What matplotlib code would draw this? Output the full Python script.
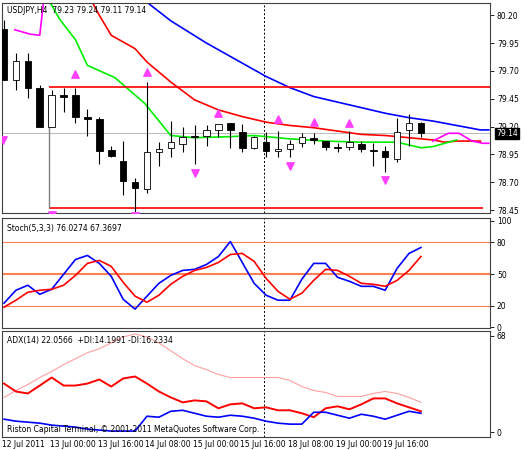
import numpy as np
import matplotlib
matplotlib.use("Agg")
import matplotlib.pyplot as plt

opens  = [80.08,79.62,79.79,79.55,79.20,79.48,79.48,79.29,79.27,78.99,78.89,78.70,78.64,78.97,79.01,79.04,79.12,79.12,79.17,79.23,79.15,79.01,79.06,78.98,79.00,79.05,79.10,79.07,79.02,79.02,79.04,78.99,78.98,78.91,79.17,79.23]
highs  = [80.16,79.86,79.86,79.57,79.53,79.55,79.55,79.36,79.29,79.03,79.07,78.74,79.60,79.06,79.25,79.20,79.21,79.21,79.22,79.23,79.22,79.12,79.15,79.16,79.08,79.14,79.14,79.07,79.05,79.16,79.07,79.05,79.03,79.28,79.31,79.24]
lows   = [79.62,79.53,79.46,79.20,79.20,79.33,79.23,79.12,78.86,78.93,78.59,78.43,78.60,78.85,78.93,78.97,78.86,79.03,79.11,79.01,78.97,79.00,78.93,78.93,78.93,79.02,79.04,78.99,78.97,78.99,78.97,78.85,78.79,78.88,79.03,79.11]
closes = [79.62,79.79,79.55,79.20,79.48,79.47,79.29,79.27,78.98,78.94,78.71,78.65,78.97,79.00,79.06,79.11,79.11,79.17,79.22,79.17,79.01,79.11,78.98,79.00,79.04,79.11,79.08,79.02,79.01,79.06,79.00,78.98,78.93,79.15,79.23,79.14]

blue_idx = [11,14,17,20,22,24,26,28,30,32,34,36,38,40,40.7]
blue_val = [80.40,80.15,79.95,79.77,79.65,79.55,79.47,79.42,79.37,79.32,79.28,79.25,79.21,79.17,79.17]
red_idx = [7,8,9,11,12,14,16,18,20,22,24,26,28,30,32,34,36,37,38,39,40]
red_val = [80.40,80.20,80.02,79.90,79.78,79.60,79.44,79.35,79.29,79.24,79.21,79.19,79.16,79.13,79.12,79.10,79.08,79.06,79.07,79.07,79.07]
green_idx = [3.4,4.7,6,7,9.3,11.8,14,16,19,21,24,27,30,33,35,36,37,38]
green_val = [80.40,80.16,79.98,79.75,79.64,79.41,79.12,79.10,79.11,79.12,79.09,79.07,79.06,79.06,79.01,79.02,79.05,79.08]
mag1_idx = [0.9,2.2,3.0,3.4]
mag1_val = [80.07,80.03,80.02,80.40]
mag2_idx = [36,37.3,38.2,39.3,40.2,40.7]
mag2_val = [79.07,79.14,79.14,79.07,79.05,79.05]
up_frac = [6,12,18,23,26,29]
up_frac_val = [79.67,79.69,79.32,79.27,79.24,79.23]
dn_frac = [-0.1,4,11,16,24,32]
dn_frac_val = [79.08,78.41,78.40,78.78,78.85,78.72]
res_level = 79.56
sup_level = 78.47

stoch_k = [22.5,34.7,39.4,30.9,35.6,49.7,63.7,67.5,60.0,47.8,26.2,16.9,29.1,41.2,48.7,53.4,54.4,59.0,66.5,80.6,60.9,41.2,30.0,25.3,25.3,45.0,60.0,60.0,46.9,43.1,38.4,38.4,34.7,55.3,69.4,75.0]
stoch_d = [18.7,25.3,32.8,34.7,35.6,39.4,48.7,60.0,62.8,57.2,42.2,29.1,23.4,30.0,40.3,47.8,53.4,56.2,60.9,68.4,69.4,61.9,45.9,33.7,26.2,31.9,44.0,54.4,53.4,47.8,41.2,40.3,38.4,44.0,53.4,66.5]
adx = [24.5,29.4,33.6,38.6,42.8,47.7,51.9,56.1,58.9,63.1,67.3,69.4,67.3,63.1,57.5,51.9,47.0,44.2,40.7,38.6,38.6,38.6,38.6,38.6,36.5,32.2,29.4,28.0,25.2,25.2,25.2,27.3,28.7,27.3,24.5,21.0]
minus_di = [34.3,28.7,27.3,32.9,38.6,32.9,32.9,34.3,37.2,32.2,37.9,39.3,34.3,28.7,24.5,21.0,22.4,21.7,16.8,19.6,20.3,16.8,17.5,15.4,15.4,13.3,10.5,16.8,18.2,16.1,19.6,23.8,23.8,20.3,17.5,14.7]
plus_di = [9.1,7.7,7.0,6.3,4.9,4.2,3.5,2.1,1.4,0.7,0.7,0.7,11.2,10.5,14.7,15.4,13.3,11.2,10.5,11.9,11.2,9.8,7.7,6.3,5.6,5.6,14.0,14.0,11.9,9.8,12.6,11.2,9.1,11.9,14.7,13.3]
xtick_pos = [0,4,8,12,16,20,24,28,32]
xtick_labels = ["12 Jul 2011","13 Jul 00:00","13 Jul 16:00","14 Jul 08:00","15 Jul 00:00","15 Jul 16:00","18 Jul 08:00","19 Jul 00:00","19 Jul 16:00"]
price_ticks = [80.20,79.95,79.70,79.45,79.20,78.95,78.70,78.45]

W, H = 525, 450
fig = plt.figure(figsize=(5.25, 4.5), dpi=100)
def ax_at(x0, y0, x1, y1):
    return fig.add_axes([x0/W, 1-y1/H, (x1-x0)/W, (y1-y0)/H])
ax1 = ax_at(2, 3, 490, 213)
ax2 = ax_at(2, 218, 490, 328)
ax3 = ax_at(2, 331, 490, 437)
xl = (-0.17, 40.8)
fs = 5.5
for a in (ax1, ax2, ax3):
    a.set_xlim(*xl)
    a.yaxis.tick_right()
    a.tick_params(axis='y', labelsize=fs, length=3, width=0.6, pad=2)
    a.tick_params(axis='x', length=0)
    a.set_xticks([])
    for s in a.spines.values():
        s.set_linewidth(0.8)
        s.set_color('#404040')
    a.axvline(21.8, color='black', ls=(0, (2, 2)), lw=0.7)

x = np.arange(len(opens))
ax1.set_ylim(78.424, 80.31)
ax1.set_yticks(price_ticks)
ax1.set_yticklabels([f"{p:.2f}" for p in price_ticks])
ax1.axhline(closes[-1], color='#b0b0b0', lw=0.6)
ax1.plot(blue_idx, blue_val, color='#0000ff', lw=1.2)
ax1.plot(red_idx, red_val, color='#ff0000', lw=1.2)
ax1.plot(green_idx, green_val, color='#00ee00', lw=1.2)
ax1.plot(mag1_idx, mag1_val, color='#ff00ff', lw=1.2)
ax1.plot(mag2_idx, mag2_val, color='#ff00ff', lw=1.2)
ax1.hlines([res_level], 3.8, 40.8, color='#ff0000', lw=1.2)
ax1.hlines([sup_level], 3.8, 40.2, color='#ff0000', lw=1.2)
ax1.vlines([3.8], sup_level, 79.48, color='#808080', lw=1)
ax1.vlines(x, lows, highs, color='black', lw=0.8, zorder=3)
for i in x:
    o, c = opens[i], closes[i]
    bot, h = min(o, c), max(abs(c - o), 0.006)
    fc = 'white' if c > o else 'black'
    ax1.bar(i, h, 0.55, bottom=bot, facecolor=fc, edgecolor='black', lw=0.6, zorder=4)
ax1.scatter(up_frac, up_frac_val, marker='^', s=28, color='#ff40ff', zorder=5)
ax1.scatter(dn_frac, dn_frac_val, marker='v', s=28, color='#ff40ff', zorder=5)
ax1.text(0.01, 0.985, "USDJPY,H4  79.23 79.24 79.11 79.14", transform=ax1.transAxes, fontsize=fs, va='top')
ax1.text(1.012, (closes[-1]-78.424)/(80.31-78.424), f"{closes[-1]:.2f}", transform=ax1.transAxes,
         fontsize=fs, va='center', color='white', zorder=10,
         bbox=dict(boxstyle='square,pad=0.15', fc='black', ec='black'))

ax2.set_ylim(-0.9, 102.8)
ax2.set_yticks([100, 80, 50, 20, 0])
ax2.set_yticklabels(["100", "80", "50", "20", "0"])
for lv, lw in ((80, 0.8), (50, 1.5), (20, 0.8)):
    ax2.axhline(lv, color='#ff8050', lw=lw)
ax2.plot(x, stoch_k, color='#0000ff', lw=1.2)
ax2.plot(x, stoch_d, color='#ff0000', lw=1.2)
ax2.text(0.01, 0.95, "Stoch(5,3,3) 76.0274 67.3697", transform=ax2.transAxes, fontsize=fs, va='top')

ax3.set_ylim(-3.5, 71.5)
ax3.set_yticks([68, 0])
ax3.plot(x, adx, color='#ffa0a0', lw=0.8)
ax3.plot(x, minus_di, color='#ff0000', lw=1.4)
ax3.plot(x, plus_di, color='#0000ff', lw=1.2)
ax3.text(0.01, 0.95, "ADX(14) 22.0566  +DI:14.1991 -DI:16.2334", transform=ax3.transAxes, fontsize=fs, va='top')
ax3.text(0.01, 0.03, "Riston Capital Terminal, © 2001-2011 MetaQuotes Software Corp.", transform=ax3.transAxes, fontsize=fs, va='bottom')
for p, lab in zip(xtick_pos, xtick_labels):
    ax3.text(p - 0.15, -0.03, lab, transform=ax3.get_xaxis_transform(), fontsize=fs, va='top', ha='left')

fig.savefig("out.png", dpi=100)
